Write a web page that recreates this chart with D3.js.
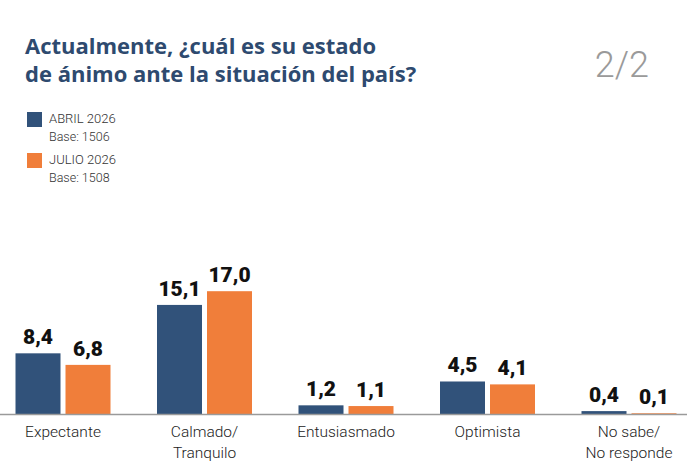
<!DOCTYPE html>
<html>
<head>
<meta charset="utf-8">
<script src="https://cdn.jsdelivr.net/npm/d3@7"></script>
<style>
  body { margin: 0; background: #fff; }
  svg { display: block; }
</style>
</head>
<body>
<div class="chart"></div>
<script>
// datos del gráfico
var categories = ["Expectante", "Calmado/\nTranquilo", "Entusiasmado", "Optimista", "No sabe/\nNo responde"];
var seriesNames = ["ABRIL 2026", "JULIO 2026"];
var seriesBases = ["Base: 1506", "Base: 1508"];
var abril = [8.4, 15.1, 1.2, 4.5, 0.4];
var julio = [6.8, 17.0, 1.1, 4.1, 0.1];
var titleLines = ["Actualmente, ¿cuál es su estado", "de ánimo ante la situación del país?"];

var colors = ["#31527a", "#f07e3a"];
var W = 699, H = 466;

var svg = d3.select(".chart").append("svg")
  .attr("width", W)
  .attr("height", H);

// título
svg.append("text")
  .attr("x", 25)
  .attr("y", 54)
  .attr("fill", "#2e4a6f")
  .style("font-family", "'Open Sans', sans-serif")
  .style("font-weight", 700)
  .style("font-size", "22px")
  .selectAll("tspan")
  .data(titleLines)
  .join("tspan")
  .attr("x", 25)
  .attr("dy", function(d, i){ return i == 0 ? 0 : 28; })
  .text(function(d){ return d; });

// paginación
svg.append("text")
  .attr("x", 649)
  .attr("y", 77)
  .attr("text-anchor", "end")
  .attr("fill", "#9a9a9a")
  .style("font-family", "Roboto, sans-serif")
  .style("font-weight", 300)
  .style("font-size", "36px")
  .text("2/2");

// leyenda
var legend = svg.append("g")
  .attr("transform", "translate(27,112)");

legend.selectAll("g")
  .data(seriesNames)
  .join("g")
  .attr("transform", function(d, i){ return "translate(0," + (i * 41) + ")"; })
  .each(function(d, i){
    var g = d3.select(this);
    g.append("rect")
      .attr("width", 15)
      .attr("height", 15)
      .attr("fill", colors[i]);
    g.append("text")
      .attr("x", 22)
      .attr("y", 11)
      .attr("fill", "#333")
      .style("font-family", "Roboto, sans-serif")
      .style("font-weight", 300)
      .style("font-size", "13px")
      .text(d);
    g.append("text")
      .attr("x", 22)
      .attr("y", 29)
      .attr("fill", "#333")
      .style("font-family", "Roboto, sans-serif")
      .style("font-weight", 300)
      .style("font-size", "12.5px")
      .text(seriesBases[i]);
  });

// escalas
var baseY = 414;
var x0 = d3.scaleBand()
  .domain(categories)
  .range([-7.75, 699.75])
  .paddingInner(0);

var x1 = d3.scaleBand()
  .domain([0, 1])
  .range([0, 95])
  .paddingInner(0.1);

var y = d3.scaleLinear()
  .domain([0, 17])
  .range([baseY, baseY - 122.8]);

var rows = categories.map(function(c, i){
  return { cat: c, vals: [abril[i], julio[i]] };
});

var groups = svg.append("g").selectAll("g")
  .data(rows)
  .join("g")
  .attr("transform", function(d){
    return "translate(" + (x0(d.cat) + x0.bandwidth() / 2 - 47.5) + ",0)";
  });

groups.selectAll("rect")
  .data(function(d){ return d.vals; })
  .join("rect")
  .attr("x", function(d, i){ return x1(i); })
  .attr("width", x1.bandwidth())
  .attr("y", function(d){ return y(d); })
  .attr("height", function(d){ return baseY - y(d); })
  .attr("fill", function(d, i){ return colors[i]; });

groups.selectAll("text.val")
  .data(function(d){ return d.vals; })
  .join("text")
  .attr("class", "val")
  .attr("x", function(d, i){ return x1(i) + x1.bandwidth() / 2; })
  .attr("y", function(d){ return y(d) - 9; })
  .attr("text-anchor", "middle")
  .attr("fill", "#111")
  .style("font-family", "Roboto, sans-serif")
  .style("font-weight", 900)
  .style("font-size", "21px")
  .text(function(d){ return d3.format(".1f")(d).replace(".", ","); });

// eje
svg.append("line")
  .attr("x1", 0)
  .attr("x2", 687)
  .attr("y1", baseY + 0.5)
  .attr("y2", baseY + 0.5)
  .attr("stroke", "#9a9a9a")
  .attr("stroke-width", 1.5);

// etiquetas de categoría
var xAxis = svg.append("g")
  .attr("transform", "translate(0," + baseY + ")")
  .call(d3.axisBottom(x0).tickSize(0).tickPadding(0));

xAxis.select(".domain").remove();
xAxis.selectAll(".tick text").remove();
xAxis.selectAll(".tick")
  .append("text")
  .attr("text-anchor", "middle")
  .attr("fill", "#222")
  .style("font-family", "Roboto, sans-serif")
  .style("font-weight", 300)
  .style("font-size", "15.5px")
  .selectAll("tspan")
  .data(function(d){ return d.split("\n"); })
  .join("tspan")
  .attr("x", 0)
  .attr("y", function(d, i){ return 23 + i * 21; })
  .text(function(d){ return d; });
</script>
</body>
</html>
